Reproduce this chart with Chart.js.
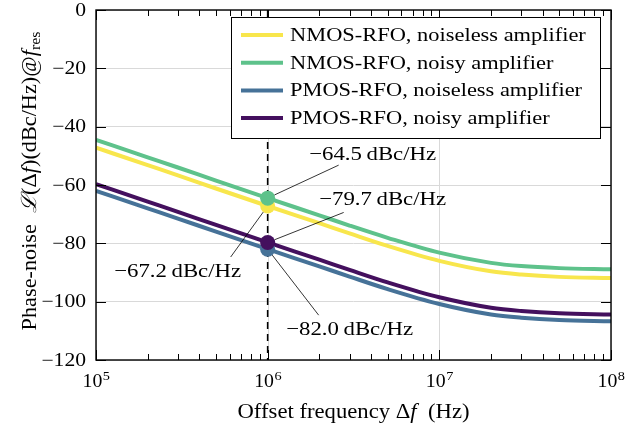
<!DOCTYPE html>
<html>
<head>
<meta charset="utf-8">
<script src="https://cdn.jsdelivr.net/npm/chart.js@4.4.1/dist/chart.umd.min.js"></script>
<style>
  html, body { margin: 0; padding: 0; background: #fff; }
</style>
</head>
<body>
<canvas id="pn" width="639" height="427"></canvas>
<script>
// data
const freqs = [1e5, 2e5, 3e5, 5e5, 1e6, 2e6, 3e6, 5e6, 1e7, 2e7, 3e7, 5e7, 1e8];
const nmosNoiseless = [-47.2, -53.2, -56.7, -61.2, -67.2, -73.1, -76.6, -80.9, -86.0, -89.6, -90.7, -91.5, -91.9];
const nmosNoisy     = [-44.5, -50.5, -54.0, -58.5, -64.5, -70.4, -73.9, -78.1, -83.2, -86.7, -87.8, -88.5, -88.9];
const pmosNoiseless = [-62.0, -68.0, -71.5, -76.0, -82.0, -87.9, -91.4, -95.7, -100.8, -104.4, -105.5, -106.3, -106.7];
const pmosNoisy     = [-59.7, -65.7, -69.2, -73.7, -79.7, -85.6, -89.1, -93.4, -98.5, -102.1, -103.2, -104.0, -104.4];

const seriesLabels = [
    'NMOS-RFO, noiseless amplifier',
    'NMOS-RFO, noisy amplifier',
    'PMOS-RFO, noiseless amplifier',
    'PMOS-RFO, noisy amplifier'
];
const seriesColors = ['#f8e64c', '#5ec28b', '#467298', '#44105e'];

const markerFreq = 1e6;
const markerValues = [-67.2, -64.5, -82.0, -79.7];

const xTicks = [1e5, 1e6, 1e7, 1e8];
const yTicks = [-120, -100, -80, -60, -40, -20, 0];

// label placement relative to each marker dot (pixels)
const labelOffsets = [
    { lx: -37, ly: 51, tx: -90, ty: 66 },
    { lx: 71, ly: -33, tx: 105, ty: -43 },
    { lx: 51, ly: 66, tx: 82, ty: 81 },
    { lx: 76, ly: -30, tx: 115, ty: -42 }
];

const SERIF = "'Liberation Serif', 'DejaVu Serif', serif";
const fmtMinus = v => (v < 0 ? '\u2212' + Math.abs(v) : String(v));

const seriesData = [nmosNoiseless, nmosNoisy, pmosNoiseless, pmosNoisy];

const lineSets = seriesData.map((vals, i) => ({
    label: seriesLabels[i],
    data: freqs.map((f, k) => ({ x: f, y: vals[k] })),
    borderColor: seriesColors[i],
    backgroundColor: seriesColors[i],
    borderWidth: 4,
    pointRadius: 0,
    cubicInterpolationMode: 'monotone',
    fill: false
}));

// dots, drawn on top (lower index = drawn later)
const dotOrder = [3, 2, 1, 0];
const dotSets = dotOrder.map(i => ({
    label: 'dot' + i,
    data: [{ x: markerFreq, y: markerValues[i] }],
    showLine: false,
    pointRadius: 7.5,
    pointHoverRadius: 7.5,
    pointBorderWidth: 0,
    pointBackgroundColor: seriesColors[i],
    borderColor: seriesColors[i]
}));

// computer-modern is wider than Liberation Serif, so stretch text a bit
function textW(ctx, text, x, y, sx, align) {
    const w = ctx.measureText(text).width * sx;
    const left = align === 'center' ? x - w / 2 : align === 'right' ? x - w : x;
    ctx.save();
    ctx.translate(left, y);
    ctx.scale(sx, 1);
    ctx.textAlign = 'left';
    ctx.fillText(text, 0, 0);
    ctx.restore();
}

function drawParts(ctx, parts, cx, baseY, sx) {
    let total = 0;
    parts.forEach(p => { ctx.font = p[1]; total += ctx.measureText(p[0]).width * sx; });
    let xx = cx - total / 2;
    ctx.fillStyle = '#000';
    parts.forEach(p => {
        ctx.font = p[1];
        textW(ctx, p[0], xx, baseY + (p[2] || 0), sx, 'left');
        xx += ctx.measureText(p[0]).width * sx;
    });
}

const deco = {
    id: 'deco',
    beforeDatasetsDraw(chart) {
        const { ctx, chartArea: a, scales: { x, y } } = chart;
        ctx.save();
        // vertical major grid
        ctx.strokeStyle = '#d9d9d9';
        ctx.lineWidth = 1;
        xTicks.forEach(v => {
            const px = Math.round(x.getPixelForValue(v)) + 0.5;
            ctx.beginPath(); ctx.moveTo(px, a.top); ctx.lineTo(px, a.bottom); ctx.stroke();
        });
        // dashed marker line
        const mx = x.getPixelForValue(markerFreq);
        ctx.strokeStyle = '#000';
        ctx.lineWidth = 1.6;
        ctx.setLineDash([7, 5]);
        ctx.beginPath(); ctx.moveTo(mx, a.top); ctx.lineTo(mx, a.bottom); ctx.stroke();
        ctx.setLineDash([]);
        ctx.restore();
    },
    afterDatasetsDraw(chart) {
        const { ctx, chartArea: a, scales: { x, y } } = chart;
        ctx.save();
        const mx = x.getPixelForValue(markerFreq);

        // leader lines, starting at the dot edge
        ctx.strokeStyle = '#000';
        ctx.lineWidth = 0.8;
        markerValues.forEach((v, i) => {
            const py = y.getPixelForValue(v);
            const o = labelOffsets[i];
            const len = Math.hypot(o.lx, o.ly);
            ctx.beginPath();
            ctx.moveTo(mx + o.lx / len * 7.5, py + o.ly / len * 7.5);
            ctx.lineTo(mx + o.lx, py + o.ly);
            ctx.stroke();
        });

        // annotation text
        ctx.fillStyle = '#000';
        ctx.font = '19px ' + SERIF;
        ctx.textBaseline = 'middle';
        markerValues.forEach((v, i) => {
            const py = y.getPixelForValue(v);
            const o = labelOffsets[i];
            textW(ctx, '\u2212' + Math.abs(v).toFixed(1) + '\u2009dBc/Hz', mx + o.tx, py + o.ty, 1.2, 'center');
        });

        // ticks (inside) on all four sides
        ctx.strokeStyle = '#000';
        ctx.lineWidth = 1;
        yTicks.forEach(v => {
            const py = Math.round(y.getPixelForValue(v)) + 0.5;
            ctx.beginPath();
            ctx.moveTo(a.left, py); ctx.lineTo(a.left + 10, py);
            ctx.moveTo(a.right, py); ctx.lineTo(a.right - 10, py);
            ctx.stroke();
        });
        xTicks.forEach((d, j) => {
            const px = Math.round(x.getPixelForValue(d)) + 0.5;
            ctx.beginPath();
            ctx.moveTo(px, a.bottom); ctx.lineTo(px, a.bottom - 10);
            ctx.moveTo(px, a.top); ctx.lineTo(px, a.top + 10);
            ctx.stroke();
            if (j < xTicks.length - 1) {
                for (let k = 2; k <= 9; k++) {
                    const qx = Math.round(x.getPixelForValue(k * d)) + 0.5;
                    ctx.beginPath();
                    ctx.moveTo(qx, a.bottom); ctx.lineTo(qx, a.bottom - 6);
                    ctx.moveTo(qx, a.top); ctx.lineTo(qx, a.top + 6);
                    ctx.stroke();
                }
            }
        });

        // frame
        ctx.lineWidth = 1.4;
        ctx.strokeRect(a.left, a.top, a.right - a.left, a.bottom - a.top);

        // y tick labels
        ctx.font = '18px ' + SERIF;
        ctx.textBaseline = 'middle';
        yTicks.forEach(v => {
            textW(ctx, fmtMinus(v), a.left - 10, y.getPixelForValue(v) + 1, 1.2, 'right');
        });

        // x tick labels 10^n
        ctx.textBaseline = 'alphabetic';
        xTicks.forEach(v => {
            const e = String(Math.round(Math.log10(v)));
            ctx.font = '18px ' + SERIF;
            const w1 = ctx.measureText('10').width * 1.1;
            ctx.font = '13px ' + SERIF;
            const w2 = ctx.measureText(e).width * 1.1;
            const px = x.getPixelForValue(v);
            const left = px - (w1 + w2) / 2;
            ctx.font = '18px ' + SERIF;
            textW(ctx, '10', left, 387, 1.1, 'left');
            ctx.font = '13px ' + SERIF;
            textW(ctx, e, left + w1 + 0.5, 380, 1.1, 'left');
        });

        // legend box
        const lx = 231, ly = 17, lw = 369, lh = 121;
        ctx.fillStyle = '#fff';
        ctx.fillRect(lx, ly, lw, lh);
        ctx.lineWidth = 1;
        ctx.strokeStyle = '#000';
        ctx.strokeRect(lx + 0.5, ly + 0.5, lw, lh);
        ctx.font = '19px ' + SERIF;
        ctx.textBaseline = 'middle';
        seriesLabels.forEach((lab, i) => {
            const ry = 35 + i * 27.7;
            ctx.strokeStyle = seriesColors[i];
            ctx.lineWidth = 4;
            ctx.beginPath(); ctx.moveTo(241, ry); ctx.lineTo(283, ry); ctx.stroke();
            ctx.fillStyle = '#000';
            textW(ctx, lab, 290, ry + 1, 1.18, 'left');
        });

        // x axis title
        ctx.textBaseline = 'alphabetic';
        const xParts = [
            ['Offset frequency \u0394', '21px ' + SERIF],
            ['f', 'italic 21px ' + SERIF],
            ['\u2002(Hz)', '21px ' + SERIF]
        ];
        drawParts(ctx, xParts, (a.left + a.right) / 2, 418, 1.08);

        // y axis title (rotated)
        ctx.translate(36, 181);
        ctx.rotate(-Math.PI / 2);
        const yParts = [
            ['Phase-noise\u2002', '21px ' + SERIF],
            ['\u2112', 'italic 21px ' + SERIF],
            ['(\u0394', '21px ' + SERIF],
            ['f', 'italic 21px ' + SERIF],
            [')(dBc/Hz)@', '21px ' + SERIF],
            ['f', 'italic 21px ' + SERIF],
            ['res', '15px ' + SERIF, 4]
        ];
        drawParts(ctx, yParts, 0, 0, 1.06);
        ctx.restore();
    }
};

new Chart(document.getElementById('pn').getContext('2d'), {
    type: 'line',
    data: { datasets: dotSets.concat(lineSets) },
    options: {
        responsive: false,
        animation: false,
        devicePixelRatio: 1,
        layout: { padding: { left: 0, right: 28, top: 10, bottom: 0 } },
        plugins: { legend: { display: false }, tooltip: { enabled: false } },
        events: [],
        scales: {
            x: {
                type: 'logarithmic',
                min: xTicks[0],
                max: xTicks[xTicks.length - 1],
                grid: { display: false },
                border: { display: false },
                ticks: { display: false },
                afterFit: s => { s.height = 67; }
            },
            y: {
                min: yTicks[0],
                max: yTicks[yTicks.length - 1],
                afterBuildTicks: s => { s.ticks = yTicks.map(v => ({ value: v })); },
                grid: { color: '#d9d9d9', lineWidth: 1, drawTicks: false },
                border: { display: false },
                ticks: { display: false },
                afterFit: s => { s.width = 96; }
            }
        }
    },
    plugins: [deco]
});
</script>
</body>
</html>
